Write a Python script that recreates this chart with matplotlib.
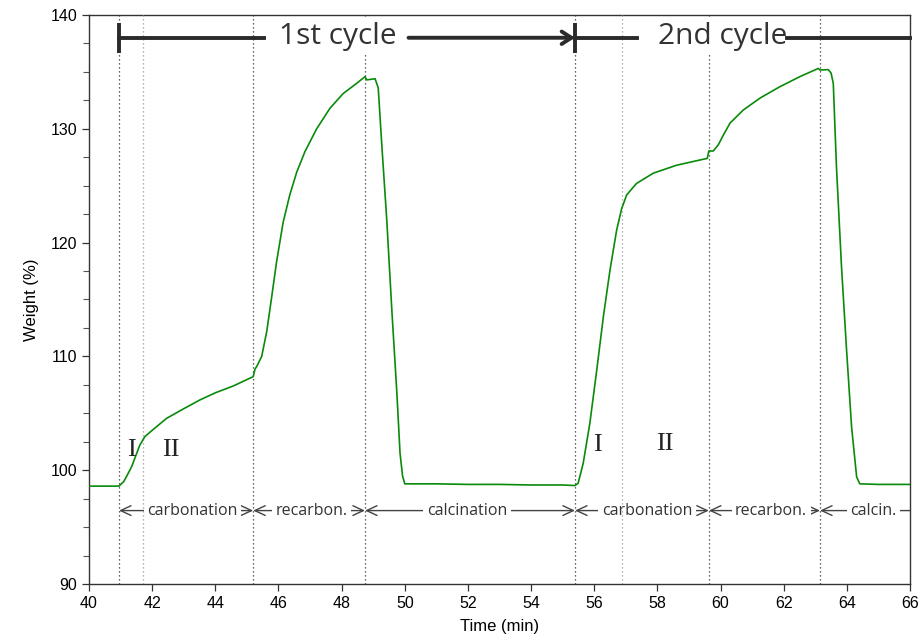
import matplotlib
matplotlib.use("Agg")
import matplotlib.pyplot as plt
from matplotlib.ticker import MultipleLocator

# ---- data ----
time_min = [40.0, 40.5, 40.95, 41.1, 41.2, 41.35, 41.5, 41.61, 41.77, 42.0, 42.46, 43.0,
            43.51, 44.0, 44.57, 45.2, 45.26, 45.31, 45.47, 45.63, 45.78, 45.94, 46.15,
            46.36, 46.58, 46.84, 47.21, 47.63, 48.05, 48.48, 48.74, 48.8, 49.06, 49.16,
            49.27, 49.43, 49.59, 49.75, 49.85, 49.93, 50.0, 51.0, 52.0, 53.0, 54.0, 55.0,
            55.39, 55.49, 55.65, 55.86, 56.08, 56.29, 56.5, 56.71, 56.87, 57.03, 57.34,
            57.87, 58.61, 59.35, 59.58, 59.63, 59.77, 59.93, 60.09, 60.3, 60.72, 61.25,
            61.88, 62.51, 63.09, 63.15, 63.41, 63.5, 63.57, 63.67, 63.83, 63.99, 64.15,
            64.31, 64.41, 65.0, 66.0]
weight_pct = [98.6, 98.6, 98.6, 99.0, 99.5, 100.3, 101.4, 102.2, 102.95, 103.5, 104.56,
              105.4, 106.17, 106.8, 107.4, 108.22, 108.9, 109.1, 110.0, 112.2, 115.1, 118.3,
              121.8, 124.2, 126.2, 128.0, 130.0, 131.8, 133.1, 134.0, 134.58, 134.3, 134.4,
              133.6, 128.7, 122.0, 114.1, 106.8, 101.5, 99.5, 98.8, 98.8, 98.75, 98.75,
              98.7, 98.7, 98.65, 98.85, 100.6, 104.1, 108.8, 113.5, 117.6, 121.1, 123.0,
              124.2, 125.2, 126.1, 126.8, 127.26, 127.4, 128.05, 128.05, 128.6, 129.45,
              130.5, 131.65, 132.7, 133.7, 134.58, 135.3, 135.17, 135.2, 134.9, 134.0,
              126.7, 117.9, 110.6, 103.8, 99.4, 98.8, 98.75, 98.75]

phase_bounds = [40.95, 45.2, 48.74, 55.39, 59.63, 63.15, 66.0]
phase_labels = ["carbonation", "recarbon.", "calcination", "carbonation", "recarbon.", "calcin."]
phase_label_x = [43.28, 47.06, 51.97, 57.67, 61.6, 64.84]
stage_bounds = [41.71, 56.88]
cycle_labels = ["1st cycle", "2nd cycle"]
stage_labels = ["I", "II", "I", "II"]
stage_label_x = [41.33, 42.6, 56.1, 58.25]
stage_label_y = [101.8, 101.8, 102.2, 102.3]

# ---- figure ----
fig = plt.figure(figsize=(9.22, 6.44), dpi=100)
ax = fig.add_axes([0.0965, 0.0932, 0.8905, 0.8835])

ax.plot(time_min, weight_pct, color="#0a8a0a", lw=1.2, zorder=5)

# vertical dotted lines
dark = "#333333"
light = "#999999"
for xb in phase_bounds[:-1]:
    ax.axvline(xb, color=dark, ls=(0, (1, 2.2)), lw=0.9, zorder=3)
for xb in stage_bounds:
    ax.axvline(xb, color=light, ls=(0, (1, 2.2)), lw=0.9, zorder=3)

ax.set_xlim(40, 66)
ax.set_ylim(90, 140)
ax.xaxis.set_major_locator(MultipleLocator(2))
ax.yaxis.set_major_locator(MultipleLocator(10))
ax.yaxis.set_minor_locator(MultipleLocator(2.5))
ax.tick_params(axis="both", which="major", direction="out", length=5, width=0.9,
               colors="#333333", labelsize=11.5, labelcolor="black")
ax.tick_params(axis="y", which="minor", direction="out", length=4, width=0.8, colors="#555555")
for s in ax.spines.values():
    s.set_color("#333333")
    s.set_linewidth(1.0)
for lab in ax.get_xticklabels() + ax.get_yticklabels():
    lab.set_family("Liberation Sans")

ax.set_xlabel("Time (min)", fontsize=12, family="Liberation Sans", labelpad=6)
ax.set_ylabel("Weight (%)", fontsize=12, family="Liberation Sans", labelpad=8)

# phase arrows
ya = 96.45
acol = "#444444"
for i, lab in enumerate(phase_labels):
    x0, x1 = phase_bounds[i], phase_bounds[i + 1]
    style = "<->" if i < len(phase_labels) - 1 else "->"
    ax.annotate("", xy=(x0, ya), xytext=(x1, ya),
                arrowprops=dict(arrowstyle=style + ",head_length=0.75,head_width=0.35",
                                color=acol, lw=1.0, shrinkA=0, shrinkB=0), zorder=2)
    ax.text(phase_label_x[i], ya, lab, ha="center", va="center", fontsize=11.5,
            family="Open Sans", color="#333333", zorder=2.5,
            bbox=dict(facecolor="white", edgecolor="none", pad=2.5))

# stage numerals
for sx, sy, sl in zip(stage_label_x, stage_label_y, stage_labels):
    ax.text(sx, sy, sl, ha="center", va="center", fontsize=19,
            family="Liberation Serif", color="#222222", zorder=6)

# cycle bracket
yc = 138.0
ccol = "#2b2b2b"
ax.plot([phase_bounds[0]] * 2, [136.7, 139.3], color=ccol, lw=2.8, zorder=7,
        solid_capstyle="butt")
ax.plot([phase_bounds[3]] * 2, [136.7, 139.3], color=ccol, lw=2.8, zorder=7,
        solid_capstyle="butt")
ax.plot([phase_bounds[0], 45.55], [yc, yc], color=ccol, lw=2.8, zorder=7)
ax.annotate("", xy=(phase_bounds[3], yc), xytext=(50.12, yc),
            arrowprops=dict(arrowstyle="->,head_length=0.7,head_width=0.45",
                            color=ccol, lw=2.8, shrinkA=0, shrinkB=0), zorder=7)
ax.plot([phase_bounds[3], 57.35], [yc, yc], color=ccol, lw=2.8, zorder=7)
ax.plot([62.1, 66.0], [yc, yc], color=ccol, lw=2.8, zorder=7, clip_on=False)
ax.text(47.88, yc + 0.1, cycle_labels[0], ha="center", va="center", fontsize=21.5,
        family="Open Sans", color="#333333", zorder=6,
        bbox=dict(facecolor="white", edgecolor="none", pad=2))
ax.text(60.07, yc + 0.1, cycle_labels[1], ha="center", va="center", fontsize=21.5,
        family="Open Sans", color="#333333", zorder=6,
        bbox=dict(facecolor="white", edgecolor="none", pad=2))

fig.savefig("out.png", dpi=100)
